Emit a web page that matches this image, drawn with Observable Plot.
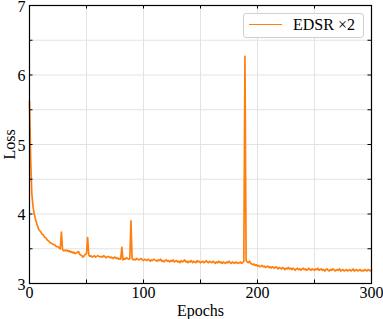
<!DOCTYPE html>
<html>
<head>
<meta charset="utf-8">
<script src="https://cdn.jsdelivr.net/npm/d3@7"></script>
<script src="https://cdn.jsdelivr.net/npm/@observablehq/plot@0.6"></script>
<style>
  html, body { margin: 0; padding: 0; background: #fff; }
  #wrap { position: relative; width: 383px; height: 319px; font-family: "Liberation Serif", "Times New Roman", serif; }
  #legend { position: absolute; left: 243px; top: 13px; width: 121px; height: 25px; border: 1px solid #d0d0d0; border-radius: 3px; background: #fff; box-sizing: border-box; }
  #legend .swatch { position: absolute; left: 5px; top: 10px; width: 33px; height: 0; border-top: 1.7px solid #ff7f0e; }
  #legend .lab { position: absolute; left: 49px; top: 2px; font-size: 16px; line-height: 18px; color: #000; white-space: nowrap; }
</style>
</head>
<body>
<div id="wrap"></div>
<script>
const seriesName = "EDSR ×2";
const loss = [
  5.62, 4.80, 4.30, 4.12, 4.01, 3.94, 3.88, 3.83, 3.78, 3.76,
  3.74, 3.71, 3.70, 3.67, 3.66, 3.64, 3.62, 3.61, 3.59, 3.58,
  3.57, 3.56, 3.56, 3.54, 3.53, 3.53, 3.51, 3.50, 3.74, 3.49,
  3.47, 3.48, 3.47, 3.48, 3.46, 3.47, 3.45, 3.46, 3.44, 3.45,
  3.43, 3.44, 3.45, 3.46, 3.42, 3.41, 3.40, 3.38, 3.40, 3.42,
  3.43, 3.66, 3.41, 3.39, 3.40, 3.38, 3.39, 3.40, 3.38, 3.39,
  3.40, 3.39, 3.38, 3.39, 3.38, 3.40, 3.39, 3.37, 3.38, 3.39,
  3.38, 3.37, 3.38, 3.36, 3.37, 3.38, 3.36, 3.37, 3.35, 3.36,
  3.35, 3.52, 3.34, 3.36, 3.35, 3.37, 3.36, 3.35, 3.36, 3.90,
  3.36, 3.34, 3.35, 3.34, 3.36, 3.35, 3.34, 3.35, 3.36, 3.34,
  3.33, 3.35, 3.34, 3.33, 3.35, 3.34, 3.32, 3.34, 3.33, 3.35,
  3.34, 3.33, 3.32, 3.34, 3.33, 3.35, 3.32, 3.33, 3.31, 3.33,
  3.34, 3.32, 3.33, 3.31, 3.33, 3.32, 3.34, 3.31, 3.32, 3.33,
  3.31, 3.32, 3.30, 3.33, 3.31, 3.32, 3.34, 3.31, 3.32, 3.30,
  3.32, 3.31, 3.33, 3.30, 3.32, 3.31, 3.30, 3.33, 3.31, 3.32,
  3.30, 3.31, 3.32, 3.30, 3.31, 3.33, 3.31, 3.30, 3.32, 3.31,
  3.30, 3.32, 3.31, 3.29, 3.31, 3.30, 3.32, 3.30, 3.31, 3.29,
  3.31, 3.30, 3.29, 3.31, 3.30, 3.32, 3.30, 3.29, 3.31, 3.30,
  3.29, 3.31, 3.30, 3.29, 3.30, 3.31, 3.29, 3.30, 3.32, 6.27,
  3.33, 3.31, 3.30, 3.32, 3.29, 3.28, 3.27, 3.28, 3.26, 3.27,
  3.25, 3.26, 3.24, 3.25, 3.26, 3.24, 3.25, 3.23, 3.24, 3.25,
  3.23, 3.24, 3.22, 3.24, 3.23, 3.22, 3.24, 3.23, 3.21, 3.23,
  3.22, 3.21, 3.23, 3.22, 3.20, 3.22, 3.21, 3.23, 3.21, 3.22,
  3.20, 3.22, 3.21, 3.19, 3.21, 3.22, 3.20, 3.21, 3.19, 3.21,
  3.22, 3.20, 3.21, 3.19, 3.20, 3.22, 3.20, 3.19, 3.21, 3.20,
  3.19, 3.21, 3.20, 3.22, 3.19, 3.20, 3.21, 3.19, 3.20, 3.18,
  3.20, 3.21, 3.19, 3.18, 3.20, 3.19, 3.21, 3.20, 3.18, 3.19,
  3.20, 3.19, 3.21, 3.18, 3.19, 3.20, 3.18, 3.19, 3.20, 3.18,
  3.19, 3.20, 3.18, 3.19, 3.21, 3.18, 3.19, 3.20, 3.18, 3.19,
  3.20, 3.18, 3.19, 3.18, 3.20, 3.19, 3.18, 3.20, 3.19, 3.18,
  3.20
];
const epochs = d3.range(loss.length);
const xTickLabels = [0, 100, 200, 300];
const yTickLabels = [3, 4, 5, 6, 7];
const xGrid = [0, 50, 100, 150, 200, 250, 300];
const yGrid = [3, 3.5, 4, 4.5, 5, 5.5, 6, 6.5, 7];

const data = epochs.map((e, i) => ({epoch: e, loss: loss[i]}));

const W = 383, H = 319;
const mL = 29, mR = 12, mT = 5, mB = 36;
const pw = W - mL - mR, ph = H - mT - mB;
const tl = 3.5;

const chart = Plot.plot({
  width: W, height: H,
  marginLeft: mL, marginRight: mR, marginTop: mT, marginBottom: mB,
  style: {fontFamily: "'Liberation Serif', 'Times New Roman', serif", fontSize: "16px", color: "#000", background: "#fff", overflow: "visible"},
  x: {domain: [0, 300]},
  y: {domain: [3, 7]},
  marks: [
    Plot.ruleX(xGrid, {stroke: "#e3e3e3", strokeWidth: 1}),
    Plot.ruleY(yGrid, {stroke: "#e3e3e3", strokeWidth: 1}),
    Plot.line(data, {x: "epoch", y: "loss", stroke: "#ff7f0e", strokeWidth: 1.7, strokeLinejoin: "round"}),
    Plot.tickX(xGrid, {x: d => d, insetTop: ph - tl, stroke: "#000", strokeWidth: 1}),
    Plot.tickX(xGrid, {x: d => d, insetBottom: ph - tl, stroke: "#000", strokeWidth: 1}),
    Plot.tickY(yGrid, {y: d => d, insetRight: pw - tl, stroke: "#000", strokeWidth: 1}),
    Plot.tickY(yGrid, {y: d => d, insetLeft: pw - tl, stroke: "#000", strokeWidth: 1}),
    Plot.frame({stroke: "#000", strokeWidth: 1.2}),
    Plot.axisX({ticks: xTickLabels, tickFormat: d => String(d), tickSize: 0, tickPadding: 3, fontSize: 16, label: "Epochs", labelAnchor: "center", labelOffset: 32, labelArrow: "none"}),
    Plot.axisY({ticks: yTickLabels, tickFormat: d => String(d), tickSize: 0, tickPadding: 4, fontSize: 16, dy: 1, label: "Loss", labelAnchor: "center", labelOffset: 26, labelArrow: "none"})
  ]
});

const wrap = document.getElementById("wrap");
wrap.appendChild(chart);
const lg = document.createElement("div");
lg.id = "legend";
lg.innerHTML = `<div class="swatch"></div><div class="lab">${seriesName}</div>`;
wrap.appendChild(lg);
</script>
</body>
</html>
